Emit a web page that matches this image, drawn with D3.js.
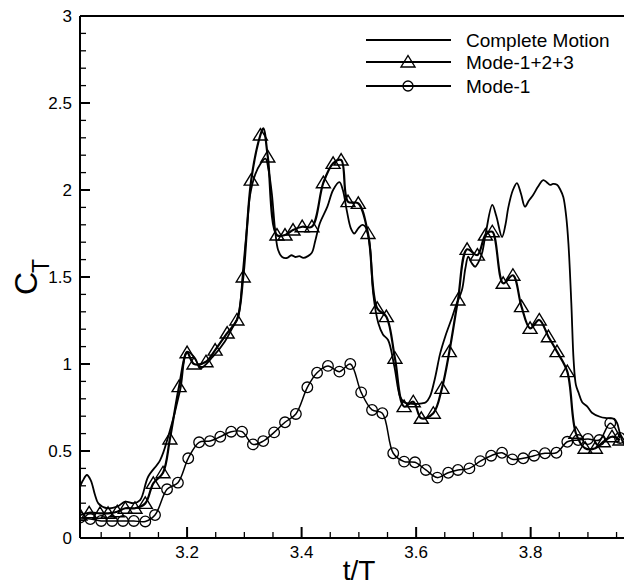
<!DOCTYPE html>
<html>
<head>
<meta charset="utf-8">
<script src="https://cdn.jsdelivr.net/npm/d3@7"></script>
<style>
  html, body { margin: 0; padding: 0; background: #fff; }
  svg { display: block; font-family: "Liberation Sans", Arial, sans-serif; }
</style>
</head>
<body>
<div id="chart"></div>
<script>
/* C_T vs t/T — Complete Motion / Mode-1+2+3 / Mode-1 */

// Complete Motion (line only)
const cmT = [3.013,3.018,3.025,3.032,3.039,3.045,3.060,3.078,3.092,3.106,3.118,3.132,3.153,3.167,3.188,3.200,3.214,3.223,3.245,3.266,
  3.280,3.289,3.293,3.298,3.305,3.310,3.319,3.328,3.337,3.342,3.348,3.354,3.359,3.366,3.375,3.382,3.389,3.396,3.403,3.411,
  3.418,3.424,3.432,3.445,3.455,3.466,3.472,3.479,3.486,3.492,3.499,3.506,3.511,3.516,3.520,3.525,3.534,3.542,3.551,3.562,
  3.572,3.579,3.586,3.598,3.610,3.617,3.624,3.633,3.642,3.651,3.663,3.670,3.680,3.686,3.691,3.697,3.703,3.708,3.715,3.722,
  3.733,3.740,3.750,3.756,3.761,3.769,3.776,3.783,3.790,3.797,3.804,3.813,3.822,3.828,3.834,3.839,3.846,3.852,3.857,3.862,
  3.866,3.871,3.875,3.879,3.884,3.890,3.899,3.907,3.921,3.930,3.939,3.946,3.951,3.956,3.962,3.970];
const cmCT = [0.295,0.33,0.362,0.33,0.25,0.199,0.171,0.18,0.209,0.20,0.218,0.352,0.448,0.582,0.851,1.071,1.033,0.975,1.042,1.13,
  1.214,1.27,1.35,1.55,1.80,1.97,2.09,2.15,2.18,2.12,1.98,1.76,1.655,1.615,1.61,1.625,1.615,1.62,1.61,1.62,
  1.64,1.71,1.81,1.904,2.0,2.045,2.0,1.88,1.78,1.75,1.78,1.80,1.79,1.74,1.655,1.406,1.234,1.17,1.138,0.985,
  0.812,0.78,0.774,0.77,0.774,0.78,0.812,0.92,1.061,1.16,1.27,1.34,1.425,1.55,1.617,1.58,1.559,1.58,1.636,1.76,
  1.914,1.85,1.73,1.80,1.90,2.0,2.04,1.98,1.904,1.94,1.97,2.02,2.057,2.045,2.029,2.035,2.03,2.0,1.96,1.85,
  1.69,1.35,1.023,0.88,0.832,0.78,0.755,0.72,0.697,0.69,0.688,0.685,0.66,0.60,0.544,0.52];

// Mode-1+2+3 (triangles)
const m123T = [3.013,3.029,3.048,3.062,3.078,3.092,3.109,3.127,3.141,3.158,3.170,3.186,3.200,3.212,3.233,3.249,3.270,3.287,3.298,3.312,
  3.328,3.341,3.357,3.371,3.385,3.401,3.418,3.438,3.455,3.469,3.481,3.499,3.516,3.532,3.548,3.563,3.579,3.595,3.609,3.630,
  3.645,3.658,3.673,3.689,3.707,3.721,3.733,3.752,3.769,3.784,3.799,3.815,3.831,3.846,3.864,3.879,3.895,3.913,3.927,3.942,3.956];
const m123CT = [0.132,0.145,0.142,0.142,0.151,0.171,0.171,0.199,0.314,0.375,0.569,0.870,1.065,1.0,1.013,1.08,1.178,1.253,1.50,2.057,
  2.316,2.19,1.741,1.741,1.77,1.789,1.789,2.042,2.153,2.172,1.933,1.923,1.75,1.32,1.272,1.033,0.755,0.783,0.688,0.717,
  0.86,1.071,1.368,1.659,1.626,1.741,1.76,1.464,1.51,1.33,1.205,1.253,1.157,1.071,0.956,0.602,0.516,0.516,0.553,0.582,0.563];
// extra line points between markers (peak of the first hump)
const m123PeakT = [3.333];
const m123PeakCT = [2.355];

// Mode-1 (circles)
const m1T = [3.013,3.031,3.050,3.069,3.088,3.107,3.127,3.144,3.165,3.184,3.202,3.221,3.240,3.258,3.277,3.296,3.315,3.333,3.352,3.371,
  3.390,3.410,3.427,3.446,3.466,3.485,3.504,3.523,3.541,3.560,3.579,3.598,3.617,3.637,3.656,3.673,3.693,3.712,3.731,3.750,
  3.768,3.787,3.806,3.825,3.845,3.864,3.883,3.900,3.920,3.939,3.956];
const m1CT = [0.117,0.109,0.098,0.098,0.098,0.098,0.095,0.132,0.28,0.318,0.458,0.55,0.557,0.582,0.611,0.611,0.538,0.557,0.607,0.665,
  0.713,0.866,0.95,0.989,0.956,1.0,0.837,0.736,0.717,0.487,0.439,0.435,0.391,0.347,0.375,0.391,0.40,0.442,0.473,0.490,
  0.452,0.458,0.473,0.487,0.490,0.553,0.563,0.569,0.563,0.66,0.575];

const xMajor = [3.2, 3.4, 3.6, 3.8];
const xMajorLabels = ["3.2", "3.4", "3.6", "3.8"];
const yMajor = [0, 0.5, 1, 1.5, 2, 2.5, 3];
const yMajorLabels = ["0", "0.5", "1", "1.5", "2", "2.5", "3"];
const legendNames = ["Complete Motion", "Mode-1+2+3", "Mode-1"];

const W = 624, H = 587;
const x = d3.scaleLinear().domain([3.013, 3.963]).range([80, 624]);
const y = d3.scaleLinear().domain([0, 3]).range([538, 16]);

const svg = d3.select("#chart").append("svg")
  .attr("width", W).attr("height", H).attr("viewBox", `0 0 ${W} ${H}`);

svg.append("defs").append("clipPath").attr("id", "plotClip")
  .append("rect").attr("x", 80).attr("y", 10).attr("width", W - 80).attr("height", 535);

const zip = (ts, vs) => ts.map((t, i) => ({ t, v: vs[i] }));
const cmData = zip(cmT, cmCT);
const triMarks = zip(m123T, m123CT);
const triLine = triMarks.concat(zip(m123PeakT, m123PeakCT)).sort((a, b) => a.t - b.t);
const m1Data = zip(m1T, m1CT);

const line = d3.line().x(d => x(d.t)).y(d => y(d.v)).curve(d3.curveCatmullRom.alpha(0.5));
const triPath = "M0,-6.5L7,5L-7,5Z";

const plot = svg.append("g").attr("clip-path", "url(#plotClip)");

plot.append("path").datum(m1Data).attr("d", line)
  .attr("fill", "none").attr("stroke", "#000").attr("stroke-width", 1.5);
plot.append("g").selectAll("circle").data(m1Data).join("circle")
  .attr("cx", d => x(d.t)).attr("cy", d => y(d.v)).attr("r", 5.3)
  .attr("fill", "none").attr("stroke", "#000").attr("stroke-width", 1.3);

plot.append("path").datum(triLine).attr("d", line)
  .attr("fill", "none").attr("stroke", "#000").attr("stroke-width", 2.2);
plot.append("g").selectAll("path").data(triMarks).join("path")
  .attr("d", triPath)
  .attr("transform", d => `translate(${x(d.t)},${y(d.v)})`)
  .attr("fill", "none").attr("stroke", "#000").attr("stroke-width", 1.4);

plot.append("path").datum(cmData).attr("d", line)
  .attr("fill", "none").attr("stroke", "#000").attr("stroke-width", 1.8);

/* axes frame */
const ax = svg.append("g").attr("stroke", "#000");
ax.append("line").attr("x1", 80).attr("x2", W).attr("y1", 538).attr("y2", 538).attr("stroke-width", 2);
ax.append("line").attr("x1", 80).attr("x2", 80).attr("y1", 16).attr("y2", 538).attr("stroke-width", 2);
ax.append("line").attr("x1", 80).attr("x2", W).attr("y1", 16).attr("y2", 16).attr("stroke-width", 2);

// x ticks (inward)
const xMinor = d3.range(3.05, 3.99, 0.05).filter(t => !xMajor.some(m => Math.abs(m - t) < 1e-6));
ax.selectAll(".xmin").data(xMinor).join("line")
  .attr("x1", d => x(d)).attr("x2", d => x(d)).attr("y1", 538).attr("y2", 532).attr("stroke-width", 1.3);
ax.selectAll(".xmaj").data(xMajor).join("line")
  .attr("x1", d => x(d)).attr("x2", d => x(d)).attr("y1", 538).attr("y2", 527).attr("stroke-width", 2);

// y ticks (inward)
const yMinor = d3.range(0.1, 3, 0.1).filter(v => !yMajor.some(m => Math.abs(m - v) < 1e-6));
ax.selectAll(".ymin").data(yMinor).join("line")
  .attr("x1", 80).attr("x2", 86).attr("y1", d => y(d)).attr("y2", d => y(d)).attr("stroke-width", 1.3);
ax.selectAll(".ymaj").data(yMajor).join("line")
  .attr("x1", 80).attr("x2", 90).attr("y1", d => y(d)).attr("y2", d => y(d)).attr("stroke-width", 2);

svg.append("g").selectAll("text").data(xMajor).join("text")
  .attr("x", d => x(d)).attr("y", 558).attr("text-anchor", "middle")
  .attr("font-size", 17).text((d, i) => xMajorLabels[i]);
svg.append("g").selectAll("text").data(yMajor).join("text")
  .attr("x", 72).attr("y", d => y(d) + 6).attr("text-anchor", "end")
  .attr("font-size", 17).text((d, i) => yMajorLabels[i]);

// axis titles
svg.append("text").attr("x", 359).attr("y", 580).attr("text-anchor", "middle")
  .attr("font-size", 28).text("t/T");
const yt = svg.append("text").attr("transform", "translate(37,295) rotate(-90)").attr("font-size", 32);
yt.append("tspan").text("C");
yt.append("tspan").attr("font-size", 23).attr("dy", 12).attr("dx", -1).text("T");

/* legend */
const lg = svg.append("g");
const rows = [40, 62, 86];
legendNames.forEach((name, i) => {
  const ly = rows[i];
  lg.append("line").attr("x1", 366).attr("x2", 451).attr("y1", ly).attr("y2", ly)
    .attr("stroke", "#000").attr("stroke-width", 2);
  if (i === 1) lg.append("path").attr("d", triPath).attr("transform", `translate(408,${ly})`)
    .attr("fill", "none").attr("stroke", "#000").attr("stroke-width", 1.4);
  if (i === 2) lg.append("circle").attr("cx", 408).attr("cy", ly).attr("r", 5)
    .attr("fill", "none").attr("stroke", "#000").attr("stroke-width", 1.3);
  lg.append("text").attr("x", 466).attr("y", ly + 7).attr("font-size", 19).text(name);
});
</script>
</body>
</html>
